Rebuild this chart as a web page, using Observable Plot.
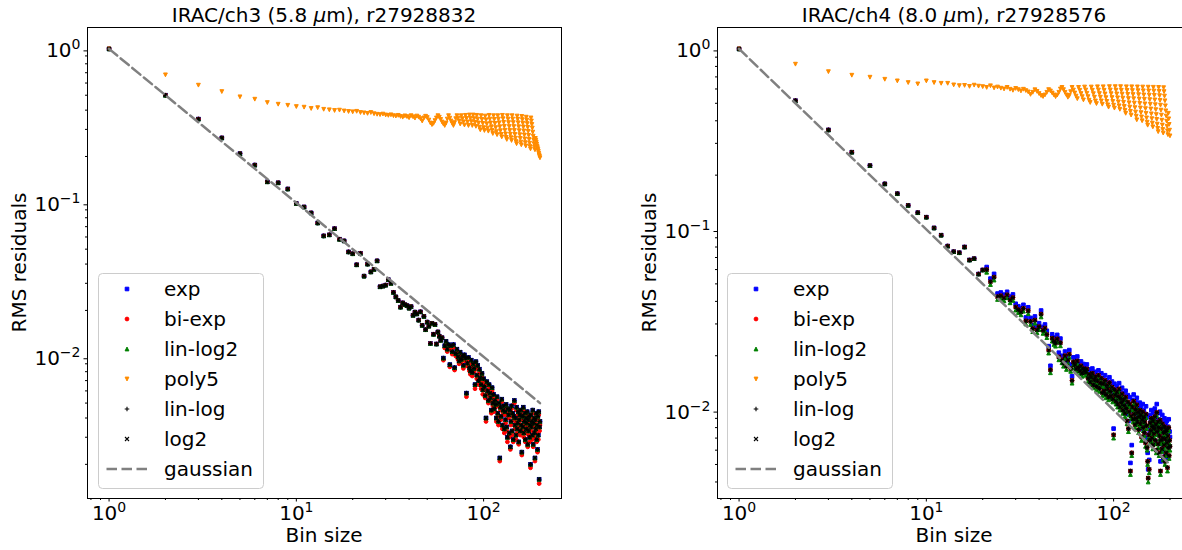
<!DOCTYPE html>
<html><head><meta charset="utf-8">
<script src="https://cdn.jsdelivr.net/npm/d3@7"></script>
<script src="https://cdn.jsdelivr.net/npm/@observablehq/plot@0.6"></script>
<style>
html,body{margin:0;padding:0;background:#fff;overflow:hidden;}
#root{position:relative;width:1182px;height:550px;overflow:hidden;background:#fff;}
.panel{position:absolute;top:0;}
</style></head><body><div id="root"></div>
<script>
// ---------------- data ----------------
const binSizes = [1,2,3,4,5,6,7,8,9,10,11,12,13,14,15,16,17,18,19,20,21,22,23,24,25,26,27,28,29,30,31,32,33,34,35,36,37,38,39,40,41,42,43,44,45,46,47,48,49,50,51,52,53,54,55,56,57,58,59,60,61,62,63,64,65,66,67,68,69,70,71,72,73,74,75,76,77,78,79,80,81,82,83,84,85,86,87,88,89,90,91,92,93,94,95,96,97,98,99,100,101,102,103,104,105,106,107,108,109,110,111,112,113,114,115,116,117,118,119,120,121,122,123,124,125,126,127,128,129,130,131,132,133,134,135,136,137,138,139,140,141,142,143,144,145,146,147,148,149,150,151,152,153,154,155,156,157,158,159,160,161,162,163,164,165,166,167,168,169,170,171,172,173,174,175,176,177,178,179,180,181,182,183,184,185,186,187,188,189,190,191,192,193,194,195,196,197,198,199,200];

// IRAC/ch3 (5.8 um)
const ch3_log2 = [1.0,0.50,0.35,0.264,0.209,0.176,0.137,0.135,0.123,0.099,
0.094,0.086,0.074,0.061,0.062,0.068,0.058,0.0566,0.048,0.0467,
0.0396,0.047,0.0334,0.040,0.0356,0.037,0.042,0.0285,0.0288,0.0292,
0.0317,0.0300,0.0262,0.0245,0.0232,0.0210,0.0224,0.0218,0.0215,0.0207,
0.0212,0.0186,0.0195,0.0190,0.0173,0.0196,0.0160,0.0183,0.0150,0.0168,
0.0158,0.0122,0.0165,0.0140,0.0162,0.0121,0.0145,0.0136,0.0128,0.0133,
0.0098,0.0118,0.0126,0.0112,0.0120,0.0089,0.0118,0.0108,0.0120,0.0085,
0.0105,0.0112,0.0100,0.0094,0.0107,0.0096,0.0101,0.0088,0.0103,0.0098,
0.0058,0.0091,0.0099,0.0085,0.0081,0.0095,0.0079,0.0090,0.0084,0.0066,
0.0093,0.0076,0.0088,0.0070,0.0083,0.0073,0.0066,0.0078,0.0061,0.0072,
0.0064,0.0056,0.0040,0.0069,0.0060,0.0052,0.0066,0.0058,0.0054,0.0045,
0.0063,0.0050,0.0057,0.0046,0.0052,0.0049,0.0040,0.0055,0.0043,0.0038,
0.0050,0.0022,0.0047,0.0041,0.0053,0.0036,0.0045,0.0048,0.0034,0.0044,
0.0039,0.0049,0.0035,0.0030,0.0046,0.0042,0.0032,0.0045,0.0026,0.0038,
0.0048,0.0033,0.0043,0.0029,0.0041,0.0052,0.0036,0.0040,0.0031,0.0047,
0.0034,0.0037,0.0044,0.0028,0.0039,0.0042,0.0033,0.0045,0.0036,0.0024,
0.0041,0.0035,0.0047,0.0032,0.0038,0.0043,0.0029,0.0040,0.0034,0.0037,
0.0044,0.0027,0.0039,0.0033,0.0041,0.0030,0.0036,0.0020,0.0042,0.0035,
0.0038,0.0031,0.0045,0.0027,0.0037,0.0040,0.0032,0.0022,0.0039,0.0034,
0.0043,0.0029,0.0036,0.0025,0.0041,0.0031,0.0044,0.0016,0.0035,0.0038];
const ch3_biexp = [1.0,0.50,0.35,0.264,0.209,0.176,0.137,0.135,0.123,0.099,
0.094,0.086,0.074,0.061,0.062,0.068,0.058,0.0566,0.048,0.0467,
0.0396,0.047,0.0334,0.040,0.0356,0.037,0.042,0.0285,0.0288,0.0292,
0.0317,0.0300,0.0262,0.0245,0.0232,0.0210,0.0224,0.0218,0.0215,0.0207,
0.0212,0.0186,0.0195,0.0190,0.0173,0.0196,0.0160,0.0183,0.0150,0.0168,
0.0158,0.0122,0.0165,0.0140,0.0162,0.0121,0.0145,0.0136,0.0128,0.0133,
0.0095,0.0114,0.0121,0.0108,0.0116,0.0086,0.0113,0.0104,0.0115,0.0082,
0.0101,0.0107,0.0096,0.0090,0.0102,0.0092,0.0097,0.0084,0.0098,0.0094,
0.0055,0.0087,0.0094,0.0081,0.0077,0.0090,0.0075,0.0085,0.0080,0.0062,
0.0088,0.0072,0.0083,0.0066,0.0078,0.0069,0.0062,0.0074,0.0057,0.0068,
0.0061,0.0054,0.0038,0.0066,0.0057,0.0050,0.0063,0.0055,0.0052,0.0043,
0.0060,0.0048,0.0054,0.0044,0.0050,0.0047,0.0038,0.0053,0.0041,0.0036,
0.0048,0.0021,0.0045,0.0039,0.0051,0.0034,0.0043,0.0046,0.0032,0.0042,
0.0037,0.0047,0.0033,0.0028,0.0044,0.0040,0.0030,0.0043,0.0025,0.0036,
0.0046,0.0031,0.0041,0.0028,0.0039,0.0050,0.0034,0.0038,0.0029,0.0045,
0.0032,0.0035,0.0042,0.0027,0.0037,0.0040,0.0031,0.0043,0.0034,0.0023,
0.0039,0.0033,0.0045,0.0030,0.0036,0.0041,0.0028,0.0038,0.0032,0.0035,
0.0042,0.0026,0.0037,0.0031,0.0039,0.0028,0.0034,0.0019,0.0040,0.0033,
0.0036,0.0029,0.0043,0.0026,0.0035,0.0038,0.0030,0.0021,0.0037,0.0032,
0.0041,0.0028,0.0034,0.0024,0.0039,0.0029,0.0042,0.0015,0.0033,0.0036];
const ch3_poly5 = [1.0,0.678,0.581,0.528,0.488,0.471,0.448,0.437,0.430,0.422,
0.418,0.410,0.415,0.405,0.402,0.398,0.400,0.395,0.392,0.390,
0.393,0.386,0.384,0.381,0.386,0.379,0.376,0.374,0.377,0.372,
0.370,0.373,0.368,0.366,0.370,0.364,0.360,0.367,0.363,0.357,
0.368,0.362,0.355,0.366,0.360,0.352,0.340,0.356,0.365,0.358,
0.345,0.330,0.322,0.328,0.342,0.356,0.368,0.360,0.348,0.335,
0.325,0.318,0.330,0.350,0.368,0.355,0.340,0.328,0.318,0.332,
0.352,0.368,0.355,0.340,0.325,0.368,0.352,0.336,0.320,0.370,
0.353,0.335,0.318,0.372,0.355,0.337,0.318,0.372,0.352,0.333,
0.314,0.370,0.350,0.330,0.310,0.298,0.368,0.348,0.328,0.308,
0.295,0.366,0.346,0.326,0.306,0.292,0.370,0.350,0.330,0.312,
0.295,0.282,0.368,0.348,0.328,0.308,0.290,0.277,0.368,0.350,
0.331,0.312,0.294,0.278,0.268,0.370,0.352,0.333,0.314,0.296,
0.280,0.266,0.258,0.368,0.350,0.332,0.313,0.295,0.279,0.265,
0.254,0.368,0.350,0.332,0.313,0.295,0.278,0.263,0.250,0.242,
0.366,0.349,0.331,0.312,0.294,0.277,0.262,0.248,0.238,0.364,
0.347,0.329,0.311,0.293,0.276,0.260,0.246,0.234,0.360,0.344,
0.327,0.309,0.291,0.274,0.258,0.244,0.232,0.224,0.356,0.340,
0.323,0.306,0.288,0.271,0.256,0.242,0.230,0.221,0.262,0.255,
0.248,0.241,0.234,0.228,0.222,0.216,0.210,0.205,0.200,0.196];
// exp, lin-log2 and lin-log coincide with log2 for this channel at plot resolution
const ch3_exp = ch3_log2;
const ch3_linlog2 = ch3_log2;
const ch3_linlog = ch3_log2;

// IRAC/ch4 (8.0 um)
const ch4_log2 = [1.0,0.517,0.356,0.268,0.226,0.179,0.158,0.136,0.124,0.117,
0.102,0.093,0.081,0.0754,0.0744,0.080,0.0678,0.069,0.0567,0.0597,
0.060,0.0514,0.0545,0.0425,0.0430,0.0418,0.0435,0.0408,0.0420,0.0372,
0.0360,0.0350,0.0366,0.0312,0.0355,0.0310,0.0283,0.0315,0.0278,0.0290,
0.0340,0.0276,0.0285,0.0262,0.0215,0.0167,0.0250,0.0240,0.0235,0.0248,
0.0197,0.0236,0.0190,0.0182,0.0200,0.0175,0.0189,0.0204,0.0170,0.0146,
0.0185,0.0178,0.0169,0.0187,0.0172,0.0165,0.0176,0.0160,0.0170,0.0167,
0.0162,0.0169,0.0150,0.0158,0.0143,0.0152,0.0160,0.0138,0.0147,0.0153,
0.0135,0.0145,0.0156,0.0132,0.0141,0.0150,0.0125,0.0140,0.0128,0.0146,
0.0122,0.0137,0.0131,0.0118,0.0142,0.0127,0.0120,0.0134,0.0115,0.0073,
0.0130,0.0121,0.0112,0.0126,0.0108,0.0119,0.0131,0.0104,0.0116,0.0110,
0.0123,0.0100,0.0114,0.0106,0.0096,0.0118,0.0102,0.0087,0.0111,0.0079,
0.0098,0.0108,0.0046,0.0093,0.0058,0.0104,0.0089,0.0112,0.0095,0.0083,
0.0101,0.0090,0.0107,0.0086,0.0097,0.0078,0.0092,0.0100,0.0084,0.0094,
0.0071,0.0088,0.0098,0.0080,0.0091,0.0075,0.0086,0.0066,0.0095,0.0082,
0.0062,0.0052,0.0042,0.0073,0.0047,0.0068,0.0085,0.0077,0.0090,0.0070,
0.0081,0.0064,0.0087,0.0074,0.0079,0.0092,0.0068,0.0083,0.0060,0.0097,
0.0076,0.0086,0.0065,0.0080,0.0058,0.0072,0.0088,0.0046,0.0068,0.0079,
0.0061,0.0084,0.0070,0.0055,0.0075,0.0064,0.0081,0.0052,0.0069,0.0076,
0.0058,0.0078,0.0066,0.0048,0.0072,0.0062,0.0080,0.0056,0.0068,0.0063];
const ch4_exp = [1.0,0.517,0.356,0.268,0.226,0.179,0.158,0.136,0.124,0.117,
0.102,0.093,0.081,0.0754,0.0744,0.080,0.0678,0.069,0.0567,0.0597,
0.062,0.0535,0.0568,0.0442,0.0448,0.0436,0.0452,0.0425,0.0437,0.0388,
0.0376,0.0366,0.0383,0.0326,0.0371,0.0324,0.0296,0.0330,0.0291,0.0303,
0.0356,0.0289,0.0298,0.0275,0.0226,0.0176,0.0263,0.0252,0.0247,0.0261,
0.0208,0.0249,0.0200,0.0192,0.0211,0.0185,0.0199,0.0215,0.0179,0.0154,
0.0196,0.0188,0.0179,0.0198,0.0182,0.0175,0.0186,0.0170,0.0180,0.0177,
0.0172,0.0179,0.0159,0.0168,0.0152,0.0162,0.0170,0.0147,0.0157,0.0163,
0.0144,0.0155,0.0166,0.0141,0.0151,0.0160,0.0134,0.0150,0.0137,0.0156,
0.0131,0.0147,0.0140,0.0127,0.0152,0.0136,0.0129,0.0144,0.0124,0.0079,
0.0140,0.0131,0.0121,0.0136,0.0117,0.0129,0.0141,0.0113,0.0126,0.0119,
0.0133,0.0109,0.0124,0.0115,0.0105,0.0128,0.0111,0.0095,0.0121,0.0087,
0.0107,0.0118,0.0051,0.0102,0.0064,0.0114,0.0098,0.0122,0.0104,0.0091,
0.0111,0.0099,0.0117,0.0095,0.0107,0.0086,0.0101,0.0110,0.0093,0.0104,
0.0079,0.0097,0.0108,0.0088,0.0100,0.0083,0.0095,0.0073,0.0105,0.0091,
0.0069,0.0058,0.0047,0.0081,0.0053,0.0076,0.0094,0.0086,0.0100,0.0078,
0.0090,0.0071,0.0097,0.0083,0.0088,0.0102,0.0076,0.0092,0.0067,0.0108,
0.0085,0.0096,0.0073,0.0089,0.0065,0.0081,0.0098,0.0052,0.0076,0.0088,
0.0068,0.0094,0.0078,0.0062,0.0084,0.0072,0.0090,0.0058,0.0077,0.0085,
0.0065,0.0087,0.0074,0.0054,0.0081,0.0070,0.0089,0.0063,0.0076,0.0071];
const ch4_linlog2 = [1.0,0.517,0.356,0.268,0.226,0.179,0.158,0.136,0.124,0.117,
0.102,0.093,0.081,0.0754,0.0744,0.080,0.0678,0.069,0.0567,0.0597,
0.058,0.0496,0.0525,0.0410,0.0414,0.0403,0.0419,0.0393,0.0405,0.0358,
0.0347,0.0337,0.0353,0.0300,0.0342,0.0298,0.0272,0.0303,0.0268,0.0279,
0.0328,0.0266,0.0274,0.0252,0.0207,0.0161,0.0241,0.0231,0.0226,0.0239,
0.0190,0.0227,0.0183,0.0175,0.0193,0.0168,0.0182,0.0196,0.0164,0.0141,
0.0178,0.0171,0.0163,0.0180,0.0166,0.0159,0.0169,0.0154,0.0164,0.0161,
0.0156,0.0163,0.0144,0.0152,0.0138,0.0146,0.0154,0.0133,0.0141,0.0147,
0.0130,0.0140,0.0150,0.0127,0.0136,0.0144,0.0120,0.0135,0.0123,0.0141,
0.0117,0.0132,0.0126,0.0114,0.0137,0.0122,0.0116,0.0129,0.0111,0.0070,
0.0125,0.0116,0.0108,0.0121,0.0104,0.0115,0.0126,0.0100,0.0112,0.0106,
0.0118,0.0096,0.0110,0.0102,0.0092,0.0114,0.0098,0.0084,0.0107,0.0076,
0.0094,0.0104,0.0044,0.0090,0.0056,0.0100,0.0086,0.0108,0.0091,0.0080,
0.0097,0.0087,0.0103,0.0083,0.0093,0.0075,0.0089,0.0096,0.0081,0.0090,
0.0068,0.0085,0.0094,0.0077,0.0088,0.0072,0.0083,0.0063,0.0091,0.0079,
0.0060,0.0050,0.0040,0.0070,0.0045,0.0065,0.0082,0.0074,0.0087,0.0067,
0.0078,0.0061,0.0084,0.0071,0.0076,0.0088,0.0065,0.0080,0.0058,0.0093,
0.0073,0.0083,0.0062,0.0077,0.0056,0.0069,0.0085,0.0044,0.0065,0.0076,
0.0059,0.0081,0.0067,0.0053,0.0072,0.0061,0.0078,0.0050,0.0066,0.0073,
0.0056,0.0075,0.0063,0.0046,0.0069,0.0060,0.0077,0.0054,0.0065,0.0060];
const ch4_poly5 = [1.0,0.823,0.748,0.715,0.697,0.679,0.665,0.651,0.640,0.665,
0.651,0.645,0.645,0.632,0.626,0.628,0.620,0.630,0.622,0.618,
0.612,0.625,0.608,0.615,0.606,0.600,0.612,0.598,0.590,0.604,
0.595,0.585,0.598,0.588,0.578,0.560,0.575,0.594,0.582,0.566,
0.552,0.545,0.556,0.575,0.595,0.585,0.570,0.556,0.544,0.555,
0.575,0.600,0.612,0.595,0.575,0.556,0.540,0.552,0.580,0.612,
0.592,0.570,0.548,0.530,0.612,0.590,0.566,0.544,0.522,0.615,
0.592,0.568,0.544,0.520,0.505,0.615,0.590,0.565,0.540,0.515,
0.498,0.617,0.592,0.566,0.540,0.515,0.494,0.617,0.590,0.563,
0.537,0.512,0.490,0.476,0.618,0.592,0.565,0.538,0.512,0.488,
0.470,0.618,0.591,0.563,0.536,0.509,0.484,0.463,0.618,0.590,
0.562,0.534,0.506,0.480,0.457,0.440,0.617,0.589,0.560,0.531,
0.503,0.476,0.451,0.430,0.617,0.588,0.559,0.530,0.501,0.473,
0.447,0.424,0.405,0.616,0.587,0.558,0.528,0.499,0.471,0.444,
0.420,0.400,0.615,0.586,0.556,0.526,0.496,0.467,0.440,0.415,
0.393,0.378,0.614,0.585,0.555,0.524,0.494,0.465,0.437,0.411,
0.388,0.370,0.613,0.584,0.553,0.522,0.491,0.461,0.433,0.407,
0.383,0.363,0.348,0.612,0.582,0.551,0.519,0.488,0.458,0.430,
0.403,0.379,0.358,0.342,0.610,0.580,0.548,0.516,0.484,0.454,
0.425,0.398,0.373,0.352,0.335,0.440,0.410,0.382,0.355,0.330];
// bi-exp and lin-log coincide with log2 for this channel at plot resolution
const ch4_biexp = ch4_log2;
const ch4_linlog = ch4_log2;

// gaussian expectation (straight line on log-log axes)
const gaussianX = [1, 200];
const gaussianY = [1.0, 0.005];

const seriesNames = ["exp", "bi-exp", "lin-log2", "poly5", "lin-log", "log2"];
const gaussianName = "gaussian";
const panelTitles = [
  ["IRAC/ch3 (5.8 ", "\u03bc", "m), r27928832"],
  ["IRAC/ch4 (8.0 ", "\u03bc", "m), r27928576"]
];
const xLabel = "Bin size";
const yLabel = "RMS residuals";
const xMajorTicks = [1, 10, 100];
const xMinorTicks = [0.8, 0.9, 2, 3, 4, 5, 6, 7, 8, 9, 20, 30, 40, 50, 60, 70, 80, 90, 200];
const yMajorTicks = [0.01, 0.1, 1];
const yMinorTicks = [0.002, 0.003, 0.004, 0.005, 0.006, 0.007, 0.008, 0.009,
  0.02, 0.03, 0.04, 0.05, 0.06, 0.07, 0.08, 0.09, 0.2, 0.3, 0.4, 0.5, 0.6, 0.7, 0.8, 0.9];

// ---------------- styles ----------------
const FONT = "DejaVu Sans";
const sq = {draw(c, s) { const r = Math.sqrt(s / Math.PI); c.rect(-r, -r, 2 * r, 2 * r); }};
const circ = {draw(c, s) { const r = Math.sqrt(s / Math.PI); c.moveTo(r, 0); c.arc(0, 0, r, 0, 2 * Math.PI); }};
const triUp = {draw(c, s) { const r = Math.sqrt(s / Math.PI); c.moveTo(0, -r); c.lineTo(r, r); c.lineTo(-r, r); c.closePath(); }};
const triDown = {draw(c, s) { const r = Math.sqrt(s / Math.PI); c.moveTo(0, r); c.lineTo(r, -r); c.lineTo(-r, -r); c.closePath(); }};
const plus = {draw(c, s) { const r = Math.sqrt(s / Math.PI); c.moveTo(-r, 0); c.lineTo(r, 0); c.moveTo(0, -r); c.lineTo(0, r); }};
const times = {draw(c, s) { const r = Math.sqrt(s / Math.PI); c.moveTo(-r, -r); c.lineTo(r, r); c.moveTo(-r, r); c.lineTo(r, -r); }};
const markerStyles = [
  {symbol: sq, fill: "blue", stroke: "blue", r: 1.8, sw: 1},
  {symbol: circ, fill: "red", stroke: "red", r: 1.9, sw: 1},
  {symbol: triUp, fill: "green", stroke: "green", r: 1.9, sw: 1},
  {symbol: triDown, fill: "darkorange", stroke: "darkorange", r: 1.9, sw: 1},
  {symbol: plus, fill: "none", stroke: "black", r: 2.3, sw: 1.1},
  {symbol: times, fill: "none", stroke: "black", r: 2.0, sw: 1.1}
];

const panels = [
  {left: 0, series: [ch3_exp, ch3_biexp, ch3_linlog2, ch3_poly5, ch3_linlog, ch3_log2],
   yDomain: [0.0012, 1.377], margins: [27, 39, 52, 87], legendX: 98, ylabX: 26},
  {left: 600, series: [ch4_exp, ch4_biexp, ch4_linlog2, ch4_poly5, ch4_linlog, ch4_log2],
   yDomain: [0.00324, 1.314], margins: [27, 9, 52, 117], legendX: 127, ylabX: 56}
];
const xDomain = [0.767, 260.6];

const powFmt = d => "10^" + Math.round(Math.log10(d));
const inDom = (ticks, dom) => ticks.filter(t => t >= dom[0] && t <= dom[1]);

const root = document.getElementById("root");
panels.forEach((p, pi) => {
  const [mt, mr, mb, ml] = p.margins;
  const W = 600, H = 550;
  const marks = [
    Plot.frame({stroke: "black", strokeWidth: 1}),
    Plot.axisX({ticks: inDom(xMinorTicks, xDomain), tickSize: 2, tickFormat: () => "", label: null}),
    Plot.axisX({ticks: xMajorTicks, tickSize: 3.5, tickPadding: 3.5, tickFormat: powFmt, fontSize: 20, label: null}),
    Plot.axisY({ticks: inDom(yMinorTicks, p.yDomain), tickSize: 2, tickFormat: () => "", label: null}),
    Plot.axisY({ticks: yMajorTicks, tickSize: 3.5, tickPadding: 3.5, tickFormat: powFmt, fontSize: 20, dy: 2, label: null})
  ];
  p.series.forEach((vals, si) => {
    const st = markerStyles[si];
    marks.push(Plot.dot(vals, {x: binSizes, y: vals, symbol: st.symbol, r: st.r,
      fill: st.fill, stroke: st.stroke, strokeWidth: st.sw}));
  });
  marks.push(Plot.line(gaussianY, {x: gaussianX, y: gaussianY, stroke: "#808080",
    strokeWidth: 2.5, strokeDasharray: "10.5,4.5"}));

  const svg = Plot.plot({
    width: W, height: H,
    marginTop: mt, marginRight: mr, marginBottom: mb, marginLeft: ml,
    x: {type: "log", domain: xDomain},
    y: {type: "log", domain: p.yDomain},
    style: {fontFamily: FONT, fontSize: "20px", background: "white", color: "black", overflow: "visible"},
    marks
  });
  svg.classList.add("panel");
  svg.style.left = p.left + "px";
  root.appendChild(svg);

  const s = d3.select(svg);
  // superscript exponents in tick labels
  s.selectAll("text").each(function () {
    const m = /^10\^(-?\d+)$/.exec(this.textContent);
    if (m) {
      const el = d3.select(this);
      el.text("10");
      el.append("tspan").attr("dy", "-8").attr("font-size", "14px").text(m[1].replace("-", "\u2212"));
    }
  });

  const fx0 = ml, fx1 = W - mr, fy0 = mt, fy1 = H - mb;
  // title
  const t = s.append("text").attr("x", (fx0 + fx1) / 2).attr("y", 22)
    .attr("text-anchor", "middle").attr("font-size", 20).attr("font-family", FONT).attr("fill", "black");
  t.append("tspan").text(panelTitles[pi][0]);
  t.append("tspan").attr("font-style", "italic").text(panelTitles[pi][1]);
  t.append("tspan").text(panelTitles[pi][2]);
  // axis labels
  s.append("text").attr("x", (fx0 + fx1) / 2).attr("y", 542).attr("text-anchor", "middle")
    .attr("font-size", 20).attr("font-family", FONT).attr("fill", "black").text(xLabel);
  s.append("text").attr("transform", `translate(${p.ylabX},${(fy0 + fy1) / 2}) rotate(-90)`)
    .attr("text-anchor", "middle").attr("font-size", 20).attr("font-family", FONT).attr("fill", "black").text(yLabel);

  // legend
  const lx = p.legendX, ly = 273;
  const g = s.append("g").attr("text-anchor", "start");
  g.append("rect").attr("x", lx + 0.5).attr("y", ly + 0.5).attr("width", 165).attr("height", 215)
    .attr("rx", 4).attr("fill", "white").attr("fill-opacity", 0.8).attr("stroke", "#cccccc").attr("stroke-width", 1);
  seriesNames.forEach((name, i) => {
    const cy = ly + 16 + 30 * i;
    const st = markerStyles[i];
    g.append("path").attr("transform", `translate(${lx + 29},${cy})`)
      .attr("d", d3.symbol(st.symbol, st.r * st.r * Math.PI)())
      .attr("fill", st.fill).attr("stroke", st.stroke).attr("stroke-width", st.sw);
    g.append("text").attr("x", lx + 66).attr("y", cy + 7).attr("text-anchor", "start").attr("font-size", 20)
      .attr("font-family", FONT).attr("fill", "black").text(name);
  });
  const gy = ly + 16 + 30 * 6;
  g.append("line").attr("x1", lx + 8.5).attr("x2", lx + 49).attr("y1", gy).attr("y2", gy)
    .attr("stroke", "#808080").attr("stroke-width", 2.5).attr("stroke-dasharray", "10.5,4.5");
  g.append("text").attr("x", lx + 66).attr("y", gy + 7).attr("text-anchor", "start").attr("font-size", 20)
    .attr("font-family", FONT).attr("fill", "black").text(gaussianName);
});
</script></body></html>
